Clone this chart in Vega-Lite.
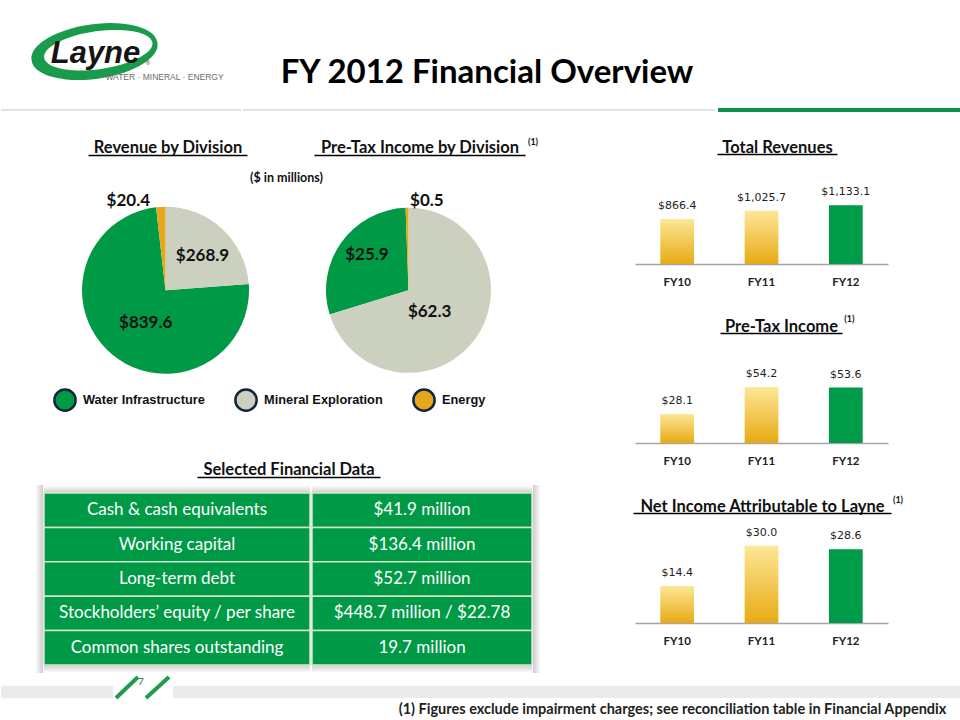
{
  "$schema": "https://vega.github.io/schema/vega-lite/v6.json",
  "padding": 0,
  "spacing": 0,
  "background": "white",
  "config": {"view": {"stroke": null}, "concat": {"spacing": 0}, "font": "Lato"},
  "resolve": {"scale": {"color": "independent"}, "legend": {"color": "independent"}},
  "datasets": {
    "pie_revenue": [
      {"chart": "Revenue by Division", "division": "Water Infrastructure", "value": 839.6},
      {"chart": "Revenue by Division", "division": "Mineral Exploration", "value": 268.9},
      {"chart": "Revenue by Division", "division": "Energy", "value": 20.4}
    ],
    "pie_pretax": [
      {"chart": "Pre-Tax Income by Division", "division": "Water Infrastructure", "value": 25.9},
      {"chart": "Pre-Tax Income by Division", "division": "Mineral Exploration", "value": 62.3},
      {"chart": "Pre-Tax Income by Division", "division": "Energy", "value": 0.5}
    ],
    "revenues": [
      {"year": "FY10", "value": 866.4},
      {"year": "FY11", "value": 1025.7},
      {"year": "FY12", "value": 1133.1}
    ],
    "pretax": [
      {"year": "FY10", "value": 28.1},
      {"year": "FY11", "value": 54.2},
      {"year": "FY12", "value": 53.6}
    ],
    "netincome": [
      {"year": "FY10", "value": 14.4},
      {"year": "FY11", "value": 30.0},
      {"year": "FY12", "value": 28.6}
    ],
    "table": [
      {"metric": "Cash & cash equivalents", "figure": "$41.9 million"},
      {"metric": "Working capital", "figure": "$136.4 million"},
      {"metric": "Long-term debt", "figure": "$52.7 million"},
      {"metric": "Stockholders’ equity / per share", "figure": "$448.7 million / $22.78"},
      {"metric": "Common shares outstanding", "figure": "19.7 million"}
    ]
  },
  "vconcat": [
    {
      "spacing": 0,
      "data": {"values": [{"brand": "Layne", "tagline": "WATER · MINERAL · ENERGY", "reg": "®", "title": "FY 2012 Financial Overview"}]},
      "hconcat": [
        {
          "width": 240, "height": 110,
          "layer": [
            {"mark": {"type": "point", "shape": "M -1.407 0.084 A 1 0.42 -8 1 1 0.573 -0.194 A 1 0.42 -8 1 1 -1.407 0.084 Z M -1.209 0.045 A 0.86 0.30 -8 1 0 0.495 -0.195 A 0.86 0.30 -8 1 0 -1.209 0.045 Z", "size": 16129, "filled": true, "fill": "#1a9b4b", "strokeWidth": 0, "opacity": 1}, "encoding": {}},
            {"mark": {"type": "text", "font": "Liberation Sans", "fontStyle": "italic", "fontWeight": "bold", "fontSize": 31, "fill": "#151515", "baseline": "alphabetic", "align": "center", "dx": -25.5, "dy": 8}, "encoding": {"text": {"field": "brand"}}},
            {"mark": {"type": "text", "font": "Liberation Sans", "fontSize": 8.5, "fill": "#6b6b6b", "baseline": "middle", "dx": 43.5, "dy": 22}, "encoding": {"text": {"field": "tagline"}}},
            {"mark": {"type": "text", "font": "Liberation Sans", "fontSize": 6, "fill": "#333333", "baseline": "middle", "dx": 27, "dy": 8}, "encoding": {"text": {"field": "reg"}}},
            {"mark": {"type": "rule", "color": "#d9d9d9", "strokeWidth": 1.5}, "encoding": {"y": {"datum": 0, "type": "quantitative", "scale": {"domain": [0, 1], "nice": false}, "axis": null}}}
          ]
        },
        {
          "width": 472, "height": 110,
          "layer": [
            {"mark": {"type": "text", "font": "Lato", "fontWeight": "bold", "fontSize": 33, "fill": "#000000", "baseline": "alphabetic", "align": "center", "dx": 8, "dy": 28}, "encoding": {"text": {"field": "title"}}},
            {"mark": {"type": "rule", "color": "#d9d9d9", "strokeWidth": 1.5}, "encoding": {"y": {"datum": 0, "type": "quantitative", "scale": {"domain": [0, 1], "nice": false}, "axis": null}}}
          ]
        },
        {
          "width": 248, "height": 110,
          "mark": {"type": "rule", "color": "#0b9448", "strokeWidth": 4},
          "encoding": {"y": {"datum": 0, "type": "quantitative", "scale": {"domain": [0, 1], "nice": false}, "axis": null}}
        }
      ]
    },
    {
      "spacing": 0,
      "resolve": {"scale": {"color": "independent"}, "legend": {"color": "independent"}},
      "hconcat": [
        {
          "spacing": 0,
          "resolve": {"scale": {"color": "independent"}, "legend": {"color": "independent"}},
          "vconcat": [
            {"width": 590, "height": 23, "data": {"values": []}, "mark": {"type": "point", "opacity": 0}},
            {
              "spacing": 0,
              "hconcat": [
                {"width": 87, "height": 20, "data": {"values": []}, "mark": {"type": "point", "opacity": 0}},
                {
                  "width": 159, "height": 20,
                  "data": {"values": [{"heading": "Revenue by Division"}]},
                  "mark": {"type": "point", "opacity": 0},
                  "encoding": {"x": {"field": "heading", "type": "nominal", "axis": {"orient": "bottom", "title": null, "domainColor": "#000000", "domainWidth": 1.4, "ticks": false, "tickSize": 0, "labelAngle": 0, "labelFont": "Lato", "labelFontSize": 16.5, "labelFontWeight": "bold", "labelColor": "#111111", "labelBaseline": "alphabetic", "labelPadding": -2.5, "labelLimit": 1000, "labelOverlap": false, "labelFlush": false, "grid": false}}}
                },
                {"width": 67, "height": 20, "data": {"values": []}, "mark": {"type": "point", "opacity": 0}},
                {
                  "width": 211, "height": 20,
                  "data": {"values": [{"heading": "Pre-Tax Income by Division", "note": "(1)"}]},
                  "encoding": {"x": {"field": "heading", "type": "nominal", "axis": {"orient": "bottom", "title": null, "domainColor": "#000000", "domainWidth": 1.4, "ticks": false, "tickSize": 0, "labelAngle": 0, "labelFont": "Lato", "labelFontSize": 16.5, "labelFontWeight": "bold", "labelColor": "#111111", "labelBaseline": "alphabetic", "labelPadding": -2.5, "labelLimit": 1000, "labelOverlap": false, "labelFlush": false, "grid": false}}},
                  "layer": [
                    {"mark": {"type": "point", "opacity": 0}},
                    {"mark": {"type": "text", "font": "Lato", "fontSize": 9, "fontWeight": "bold", "fill": "#111111", "baseline": "middle", "dx": 113.5, "dy": -3.3}, "encoding": {"text": {"field": "note"}}}
                  ]
                }
              ]
            },
            {
              "spacing": 0,
              "resolve": {"scale": {"color": "independent"}, "legend": {"color": "independent"}},
              "hconcat": [
                {"width": 43, "height": 268.6, "data": {"values": []}, "mark": {"type": "point", "opacity": 0}},
                {
                  "width": 486, "height": 268.6,
                  "resolve": {"scale": {"theta": "independent"}},
                  "layer": [
                    {
                      "data": {"name": "pie_revenue"},
                      "encoding": {
                        "x": {"field": "chart", "type": "nominal", "scale": {"type": "point", "domain": ["Revenue by Division", "Pre-Tax Income by Division"], "padding": 0.5}, "axis": null},
                        "theta": {"field": "value", "type": "quantitative", "stack": true, "scale": {"range": [-0.1135, 6.1697]}},
                        "order": {"field": "value", "type": "quantitative", "sort": "ascending"},
                        "color": {"field": "division", "type": "nominal",
                          "scale": {"domain": ["Water Infrastructure", "Mineral Exploration", "Energy"], "range": ["#009a46", "#cbd0bf", "#e3a81c"]},
                          "legend": {"orient": "bottom-left", "direction": "horizontal", "columns": 3, "title": null, "offset": 9, "padding": 0, "symbolType": "circle", "symbolSize": 450, "symbolStrokeColor": "#15233b", "symbolStrokeWidth": 2.5, "symbolOpacity": 1, "labelFont": "Liberation Sans", "labelFontSize": 12.8, "labelFontWeight": "bold", "labelColor": "#111111", "labelOffset": 6, "columnPadding": 25, "labelLimit": 300}}
                      },
                      "layer": [
                        {"mark": {"type": "arc", "outerRadius": 83.5}},
                        {"mark": {"type": "text", "radius": 50, "dx": 3, "dy": 2, "font": "Lato", "fontWeight": "bold", "fontSize": 17, "baseline": "middle"},
                         "encoding": {"color": {"value": "#111111"}, "text": {"condition": {"test": "datum.division === 'Mineral Exploration'", "field": "value", "type": "quantitative", "format": "$,.1f"}, "value": ""}}},
                        {"mark": {"type": "text", "radius": 42, "dx": 7, "dy": 0, "font": "Lato", "fontWeight": "bold", "fontSize": 17, "baseline": "middle"},
                         "encoding": {"color": {"value": "#111111"}, "text": {"condition": {"test": "datum.division === 'Water Infrastructure'", "field": "value", "type": "quantitative", "format": "$,.1f"}, "value": ""}}},
                        {"mark": {"type": "text", "radius": 92, "dx": -32, "dy": 3, "font": "Lato", "fontWeight": "bold", "fontSize": 17, "baseline": "middle"},
                         "encoding": {"color": {"value": "#111111"}, "text": {"condition": {"test": "datum.division === 'Energy'", "field": "value", "type": "quantitative", "format": "$,.1f"}, "value": ""}}}
                      ]
                    },
                    {
                      "data": {"name": "pie_pretax"},
                      "encoding": {
                        "x": {"field": "chart", "type": "nominal", "scale": {"type": "point", "domain": ["Revenue by Division", "Pre-Tax Income by Division"], "padding": 0.5}, "axis": null},
                        "theta": {"field": "value", "type": "quantitative", "stack": true, "scale": {"range": [6.2832, 0]}},
                        "order": {"field": "value", "type": "quantitative", "sort": "ascending"},
                        "color": {"field": "division", "type": "nominal",
                          "scale": {"domain": ["Water Infrastructure", "Mineral Exploration", "Energy"], "range": ["#009a46", "#cbd0bf", "#e3a81c"]},
                          "legend": {"orient": "bottom-left", "direction": "horizontal", "columns": 3, "title": null, "offset": 9, "padding": 0, "symbolType": "circle", "symbolSize": 450, "symbolStrokeColor": "#15233b", "symbolStrokeWidth": 2.5, "symbolOpacity": 1, "labelFont": "Liberation Sans", "labelFontSize": 12.8, "labelFontWeight": "bold", "labelColor": "#111111", "labelOffset": 6, "columnPadding": 25, "labelLimit": 300}}
                      },
                      "layer": [
                        {"mark": {"type": "arc", "outerRadius": 82.5}},
                        {"mark": {"type": "text", "radius": 30, "dx": -3, "dy": 4, "font": "Lato", "fontWeight": "bold", "fontSize": 17, "baseline": "middle"},
                         "encoding": {"color": {"value": "#111111"}, "text": {"condition": {"test": "datum.division === 'Mineral Exploration'", "field": "value", "type": "quantitative", "format": "$,.1f"}, "value": ""}}},
                        {"mark": {"type": "text", "radius": 54, "dx": 2.5, "dy": -4, "font": "Lato", "fontWeight": "bold", "fontSize": 17, "baseline": "middle"},
                         "encoding": {"color": {"value": "#111111"}, "text": {"condition": {"test": "datum.division === 'Water Infrastructure'", "field": "value", "type": "quantitative", "format": "$,.1f"}, "value": ""}}},
                        {"mark": {"type": "text", "radius": 90, "dx": 20, "dy": 0.5, "font": "Lato", "fontWeight": "bold", "fontSize": 17, "baseline": "middle"},
                         "encoding": {"color": {"value": "#111111"}, "text": {"condition": {"test": "datum.division === 'Energy'", "field": "value", "type": "quantitative", "format": "$,.1f"}, "value": ""}}}
                      ]
                    },
                    {
                      "data": {"values": [{"unit": "($ in millions)"}]},
                      "mark": {"type": "text", "font": "Lato", "fontWeight": "bold", "fontSize": 12.5, "fill": "#111111", "baseline": "middle", "dx": -0.5, "dy": -112},
                      "encoding": {"text": {"field": "unit"}}
                    }
                  ]
                }
              ]
            },
            {"width": 590, "height": 31.7, "data": {"values": []}, "mark": {"type": "point", "opacity": 0}},
            {
              "spacing": 0,
              "hconcat": [
                {"width": 196, "height": 20, "data": {"values": []}, "mark": {"type": "point", "opacity": 0}},
                {
                  "width": 183, "height": 20,
                  "data": {"values": [{"heading": "Selected Financial Data"}]},
                  "mark": {"type": "point", "opacity": 0},
                  "encoding": {"x": {"field": "heading", "type": "nominal", "axis": {"orient": "bottom", "title": null, "domainColor": "#000000", "domainWidth": 1.4, "ticks": false, "tickSize": 0, "labelAngle": 0, "labelFont": "Lato", "labelFontSize": 16.5, "labelFontWeight": "bold", "labelColor": "#111111", "labelBaseline": "alphabetic", "labelPadding": -2.5, "labelLimit": 1000, "labelOverlap": false, "labelFlush": false, "grid": false}}}
                }
              ]
            },
            {"width": 590, "height": 6.3, "data": {"values": []}, "mark": {"type": "point", "opacity": 0}},
            {
              "spacing": 0,
              "hconcat": [
                {"width": 34, "height": 188, "data": {"values": []}, "mark": {"type": "point", "opacity": 0}},
                {
                  "width": 8, "height": 188,
                  "data": {"values": [{"part": "shadow"}]},
                  "mark": {"type": "rect", "fill": {"gradient": "linear", "x1": 0, "y1": 0, "x2": 1, "y2": 0, "stops": [{"offset": 0, "color": "#ffffff"}, {"offset": 1, "color": "#cdcdcd"}]}},
                  "encoding": {}
                },
                {
                  "width": 266, "height": 188,
                  "data": {"name": "table"},
                  "layer": [
                    {"data": {"values": [{"part": "shadow"}]}, "mark": {"type": "rect", "fill": {"gradient": "linear", "x1": 0, "y1": 0, "x2": 0, "y2": 1, "stops": [{"offset": 0, "color": "#ffffff"}, {"offset": 0.0426, "color": "#cdcdcd"}, {"offset": 0.957, "color": "#cdcdcd"}, {"offset": 1, "color": "#ffffff"}]}}, "encoding": {}},
                    {"mark": {"type": "rect", "fill": "#009a46", "stroke": "#d4e6cc", "strokeWidth": 1.5},
                     "encoding": {"y": {"field": "metric", "type": "nominal", "sort": null, "scale": {"paddingInner": 0, "paddingOuter": 0.2326}, "axis": null}}},
                    {"mark": {"type": "text", "font": "Lato", "fontSize": 17, "fill": "#ffffff", "baseline": "middle"},
                     "encoding": {"y": {"field": "metric", "type": "nominal", "sort": null, "scale": {"paddingInner": 0, "paddingOuter": 0.2326}, "axis": null}, "text": {"field": "metric"}}}
                  ]
                },
                {
                  "width": 220, "height": 188,
                  "data": {"name": "table"},
                  "layer": [
                    {"data": {"values": [{"part": "shadow"}]}, "mark": {"type": "rect", "fill": {"gradient": "linear", "x1": 0, "y1": 0, "x2": 0, "y2": 1, "stops": [{"offset": 0, "color": "#ffffff"}, {"offset": 0.0426, "color": "#cdcdcd"}, {"offset": 0.957, "color": "#cdcdcd"}, {"offset": 1, "color": "#ffffff"}]}}, "encoding": {}},
                    {"mark": {"type": "rect", "fill": "#009a46", "stroke": "#d4e6cc", "strokeWidth": 1.5},
                     "encoding": {"y": {"field": "metric", "type": "nominal", "sort": null, "scale": {"paddingInner": 0, "paddingOuter": 0.2326}, "axis": null}}},
                    {"mark": {"type": "text", "font": "Lato", "fontSize": 17, "fill": "#ffffff", "baseline": "middle"},
                     "encoding": {"y": {"field": "metric", "type": "nominal", "sort": null, "scale": {"paddingInner": 0, "paddingOuter": 0.2326}, "axis": null}, "text": {"field": "figure"}}}
                  ]
                },
                {
                  "width": 8, "height": 188,
                  "data": {"values": [{"part": "shadow"}]},
                  "mark": {"type": "rect", "fill": {"gradient": "linear", "x1": 0, "y1": 0, "x2": 1, "y2": 0, "stops": [{"offset": 0, "color": "#cdcdcd"}, {"offset": 1, "color": "#ffffff"}]}},
                  "encoding": {}
                }
              ]
            }
          ]
        },
        {
          "spacing": 0,
          "vconcat": [
            {"width": 370, "height": 22, "data": {"values": []}, "mark": {"type": "point", "opacity": 0}},
            {
              "spacing": 0,
              "hconcat": [
                {"width": 126, "height": 20, "data": {"values": []}, "mark": {"type": "point", "opacity": 0}},
                {
                  "width": 120, "height": 20,
                  "data": {"values": [{"heading": "Total Revenues"}]},
                  "mark": {"type": "point", "opacity": 0},
                  "encoding": {"x": {"field": "heading", "type": "nominal", "axis": {"orient": "bottom", "title": null, "domainColor": "#000000", "domainWidth": 1.4, "ticks": false, "tickSize": 0, "labelAngle": 0, "labelFont": "Lato", "labelFontSize": 16.5, "labelFontWeight": "bold", "labelColor": "#111111", "labelBaseline": "alphabetic", "labelPadding": -2, "labelLimit": 1000, "labelOverlap": false, "labelFlush": false, "grid": false}}}
                }
              ]
            },
            {
              "spacing": 0,
              "hconcat": [
                {"width": 44, "height": 108, "data": {"values": []}, "mark": {"type": "point", "opacity": 0}},
                {
                  "width": 253, "height": 108,
                  "data": {"name": "revenues"},
                  "encoding": {
                    "x": {"field": "year", "type": "nominal", "sort": null, "scale": {"domain": ["FY10", "FY11", "FY12"], "paddingInner": 0.6, "paddingOuter": 0.3}, "axis": {"title": null, "orient": "bottom", "domainColor": "#a6a6a6", "domainWidth": 1.5, "ticks": false, "tickSize": 0, "labelAngle": 0, "labelFont": "Lato", "labelFontSize": 11.5, "labelFontWeight": "bold", "labelColor": "#222222", "labelBaseline": "middle", "labelPadding": 18, "grid": false}},
                    "y": {"field": "value", "type": "quantitative", "scale": {"domain": [0, 2080], "nice": false}, "axis": null}
                  },
                  "layer": [
                    {"transform": [{"filter": "datum.year !== 'FY12'"}], "mark": {"type": "bar", "color": {"gradient": "linear", "x1": 0, "y1": 0, "x2": 0, "y2": 1, "stops": [{"offset": 0, "color": "#fde796"}, {"offset": 1, "color": "#e8aa14"}]}}},
                    {"transform": [{"filter": "datum.year === 'FY12'"}], "mark": {"type": "bar", "color": "#009b48"}},
                    {"mark": {"type": "text", "font": "DejaVu Sans", "fontSize": 11, "fill": "#1e1e1e", "baseline": "middle", "dy": -13}, "encoding": {"text": {"field": "value", "type": "quantitative", "format": "$,.1f"}}}
                  ]
                }
              ]
            },
            {"width": 370, "height": 25, "data": {"values": []}, "mark": {"type": "point", "opacity": 0}},
            {
              "spacing": 0,
              "hconcat": [
                {"width": 129, "height": 20, "data": {"values": []}, "mark": {"type": "point", "opacity": 0}},
                {
                  "width": 122, "height": 20,
                  "data": {"values": [{"heading": "Pre-Tax Income", "note": "(1)"}]},
                  "encoding": {"x": {"field": "heading", "type": "nominal", "axis": {"orient": "bottom", "title": null, "domainColor": "#000000", "domainWidth": 1.4, "ticks": false, "tickSize": 0, "labelAngle": 0, "labelFont": "Lato", "labelFontSize": 16.5, "labelFontWeight": "bold", "labelColor": "#111111", "labelBaseline": "alphabetic", "labelPadding": -2, "labelLimit": 1000, "labelOverlap": false, "labelFlush": false, "grid": false}}},
                  "layer": [
                    {"mark": {"type": "point", "opacity": 0}},
                    {"mark": {"type": "text", "font": "Lato", "fontSize": 9, "fontWeight": "bold", "fill": "#111111", "baseline": "middle", "dx": 68.3, "dy": -3.7}, "encoding": {"text": {"field": "note"}}}
                  ]
                }
              ]
            },
            {
              "spacing": 0,
              "hconcat": [
                {"width": 44, "height": 108, "data": {"values": []}, "mark": {"type": "point", "opacity": 0}},
                {
                  "width": 253, "height": 108,
                  "data": {"name": "pretax"},
                  "encoding": {
                    "x": {"field": "year", "type": "nominal", "sort": null, "scale": {"domain": ["FY10", "FY11", "FY12"], "paddingInner": 0.6, "paddingOuter": 0.3}, "axis": {"title": null, "orient": "bottom", "domainColor": "#a6a6a6", "domainWidth": 1.5, "ticks": false, "tickSize": 0, "labelAngle": 0, "labelFont": "Lato", "labelFontSize": 11.5, "labelFontWeight": "bold", "labelColor": "#222222", "labelBaseline": "middle", "labelPadding": 18, "grid": false}},
                    "y": {"field": "value", "type": "quantitative", "scale": {"domain": [0, 104.4], "nice": false}, "axis": null}
                  },
                  "layer": [
                    {"transform": [{"filter": "datum.year !== 'FY12'"}], "mark": {"type": "bar", "color": {"gradient": "linear", "x1": 0, "y1": 0, "x2": 0, "y2": 1, "stops": [{"offset": 0, "color": "#fde796"}, {"offset": 1, "color": "#e8aa14"}]}}},
                    {"transform": [{"filter": "datum.year === 'FY12'"}], "mark": {"type": "bar", "color": "#009b48"}},
                    {"mark": {"type": "text", "font": "DejaVu Sans", "fontSize": 11, "fill": "#1e1e1e", "baseline": "middle", "dy": -13}, "encoding": {"text": {"field": "value", "type": "quantitative", "format": "$,.1f"}}}
                  ]
                }
              ]
            },
            {"width": 370, "height": 26, "data": {"values": []}, "mark": {"type": "point", "opacity": 0}},
            {
              "spacing": 0,
              "hconcat": [
                {"width": 42, "height": 20, "data": {"values": []}, "mark": {"type": "point", "opacity": 0}},
                {
                  "width": 258, "height": 20,
                  "data": {"values": [{"heading": "Net Income Attributable to Layne", "note": "(1)"}]},
                  "encoding": {"x": {"field": "heading", "type": "nominal", "axis": {"orient": "bottom", "title": null, "domainColor": "#000000", "domainWidth": 1.4, "ticks": false, "tickSize": 0, "labelAngle": 0, "labelFont": "Lato", "labelFontSize": 16.5, "labelFontWeight": "bold", "labelColor": "#111111", "labelBaseline": "alphabetic", "labelPadding": -2, "labelLimit": 1000, "labelOverlap": false, "labelFlush": false, "grid": false}}},
                  "layer": [
                    {"mark": {"type": "point", "opacity": 0}},
                    {"mark": {"type": "text", "font": "Lato", "fontSize": 9, "fontWeight": "bold", "fill": "#111111", "baseline": "middle", "dx": 136, "dy": -3}, "encoding": {"text": {"field": "note"}}}
                  ]
                }
              ]
            },
            {
              "spacing": 0,
              "hconcat": [
                {"width": 44, "height": 108, "data": {"values": []}, "mark": {"type": "point", "opacity": 0}},
                {
                  "width": 253, "height": 108,
                  "data": {"name": "netincome"},
                  "encoding": {
                    "x": {"field": "year", "type": "nominal", "sort": null, "scale": {"domain": ["FY10", "FY11", "FY12"], "paddingInner": 0.6, "paddingOuter": 0.3}, "axis": {"title": null, "orient": "bottom", "domainColor": "#a6a6a6", "domainWidth": 1.5, "ticks": false, "tickSize": 0, "labelAngle": 0, "labelFont": "Lato", "labelFontSize": 11.5, "labelFontWeight": "bold", "labelColor": "#222222", "labelBaseline": "middle", "labelPadding": 18, "grid": false}},
                    "y": {"field": "value", "type": "quantitative", "scale": {"domain": [0, 41.9], "nice": false}, "axis": null}
                  },
                  "layer": [
                    {"transform": [{"filter": "datum.year !== 'FY12'"}], "mark": {"type": "bar", "color": {"gradient": "linear", "x1": 0, "y1": 0, "x2": 0, "y2": 1, "stops": [{"offset": 0, "color": "#fde796"}, {"offset": 1, "color": "#e8aa14"}]}}},
                    {"transform": [{"filter": "datum.year === 'FY12'"}], "mark": {"type": "bar", "color": "#009b48"}},
                    {"mark": {"type": "text", "font": "DejaVu Sans", "fontSize": 11, "fill": "#1e1e1e", "baseline": "middle", "dy": -13}, "encoding": {"text": {"field": "value", "type": "quantitative", "format": "$,.1f"}}}
                  ]
                }
              ]
            }
          ]
        }
      ]
    },
    {
      "spacing": 0,
      "data": {"values": [{"page": "7", "note": "(1) Figures exclude impairment charges; see reconciliation table in Financial Appendix"}]},
      "vconcat": [
        {
          "spacing": 0,
          "hconcat": [
            {
              "spacing": 0,
              "vconcat": [
                {"width": 112, "height": 13, "data": {"values": []}, "mark": {"type": "point", "opacity": 0}},
                {"width": 112, "height": 12, "view": {"fill": "#ebebeb", "stroke": null}, "data": {"values": []}, "mark": {"type": "point", "opacity": 0}}
              ]
            },
            {
              "width": 60, "height": 29,
              "layer": [
                {"mark": {"type": "point", "shape": "M -0.9 0.35 L -0.167 -0.35 M 0.1 0.35 L 0.867 -0.35", "size": 3600, "filled": false, "stroke": "#1f9d4f", "strokeWidth": 4, "strokeJoin": "round", "strokeCap": "butt", "opacity": 1}, "encoding": {}},
                {"mark": {"type": "text", "font": "Lato", "fontSize": 10, "fill": "#2a6e3f", "baseline": "middle", "dx": -2, "dy": -5.5}, "encoding": {"text": {"field": "page"}}}
              ]
            },
            {
              "spacing": 0,
              "vconcat": [
                {"width": 788, "height": 13, "data": {"values": []}, "mark": {"type": "point", "opacity": 0}},
                {"width": 788, "height": 12, "view": {"fill": "#ebebeb", "stroke": null}, "data": {"values": []}, "mark": {"type": "point", "opacity": 0}}
              ]
            }
          ]
        },
        {
          "width": 960, "height": 19,
          "mark": {"type": "text", "font": "Lato", "fontWeight": "bold", "fontSize": 14.5, "fill": "#222222", "baseline": "middle", "dx": 191.5, "dy": -5.5},
          "encoding": {"text": {"field": "note"}}
        }
      ]
    }
  ]
}
